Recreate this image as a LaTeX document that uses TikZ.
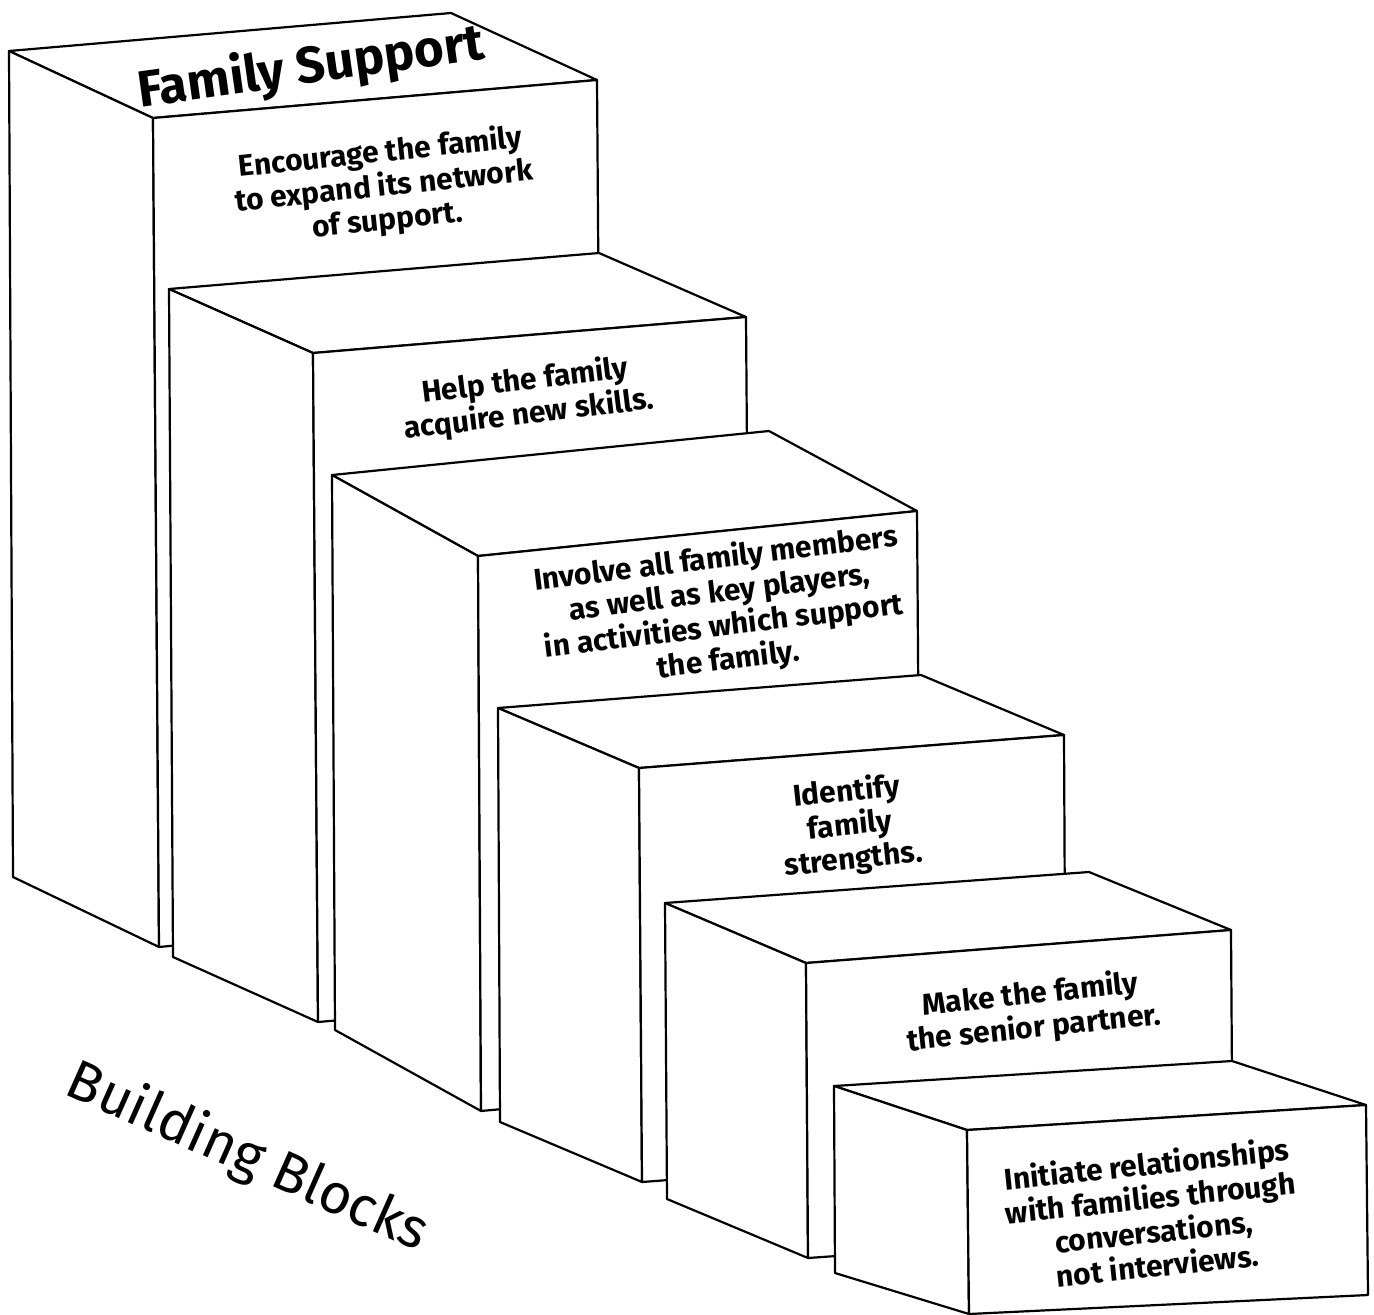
\documentclass[tikz,border=0pt]{standalone}
\usepackage{fontspec}
\setmainfont{Fira Sans}
\usepackage{tikz}
\begin{document}
\begin{tikzpicture}[line cap=round,line join=round,x=1pt,y=-1pt,
  face/.style={draw=black,fill=white,line width=2.2pt},
  facetext/.style={align=center,inner sep=0pt,font=\bfseries\fontsize{30}{34}\selectfont}]
\useasboundingbox (0,0) rectangle (1374,1315);
% block 1
\filldraw[face] (9,51) -- (451,13) -- (597,80) -- (153,118) -- cycle;
\filldraw[face] (9,51) -- (153,118) -- (159,947) -- (13,877) -- cycle;
\filldraw[face] (153,118) -- (597,80) -- (603,905) -- (159,947) -- cycle;
% block 2
\filldraw[face] (169,289) -- (599,253) -- (746,317) -- (313,353) -- cycle;
\filldraw[face] (169,289) -- (313,353) -- (318,1022) -- (173,957) -- cycle;
\filldraw[face] (313,353) -- (746,317) -- (751,985) -- (318,1022) -- cycle;
% block 3
\filldraw[face] (332,475) -- (769,431) -- (917,511) -- (478,556) -- cycle;
\filldraw[face] (332,475) -- (478,556) -- (481,1111) -- (335,1030) -- cycle;
\filldraw[face] (478,556) -- (917,511) -- (921,1070) -- (481,1111) -- cycle;
% block 4
\filldraw[face] (498,708) -- (921,675) -- (1064,735) -- (639,768) -- cycle;
\filldraw[face] (498,708) -- (639,768) -- (642,1182) -- (500,1122) -- cycle;
\filldraw[face] (639,768) -- (1064,735) -- (1066,1150) -- (642,1182) -- cycle;
% block 5
\filldraw[face] (665,903) -- (1089,872) -- (1231,930) -- (806,963) -- cycle;
\filldraw[face] (665,903) -- (806,963) -- (808,1258) -- (667,1199) -- cycle;
\filldraw[face] (806,963) -- (1231,930) -- (1233,1228) -- (808,1258) -- cycle;
% block 6
\filldraw[face] (834,1086) -- (1232,1061) -- (1366,1105) -- (967,1130) -- cycle;
\filldraw[face] (834,1086) -- (967,1130) -- (969,1314) -- (835,1273) -- cycle;
\filldraw[face] (967,1130) -- (1366,1105) -- (1368,1295) -- (969,1314) -- cycle;
% labels
\node[inner sep=0pt,rotate=8,font=\bfseries\fontsize{51}{56}\selectfont] (title) at (311,68) {Family Support};
\node[facetext,rotate=6] (t1) at (384,187) {Encourage the family\\to expand its network\\of support.};
\node[facetext,rotate=7] (t2) at (527,398) {Help the family\\acquire new skills.};
\node[facetext,rotate=7] (t3) at (722,610) {Involve all family members\\as well as key players,\\in activities which support\\the family.};
\node[facetext,rotate=6] (t4) at (850,826) {Identify\\family\\strengths.};
\node[facetext,rotate=6] (t5) at (1032,1012) {Make the family\\the senior partner.};
\node[facetext,rotate=6] (t6) at (1152,1214) {Initiate relationships\\with families through\\conversations,\\not interviews.};
\node[inner sep=0pt,rotate=-24,font=\fontsize{56}{62}\selectfont] (caption) at (247,1158) {Building Blocks};
\end{tikzpicture}
\end{document}
